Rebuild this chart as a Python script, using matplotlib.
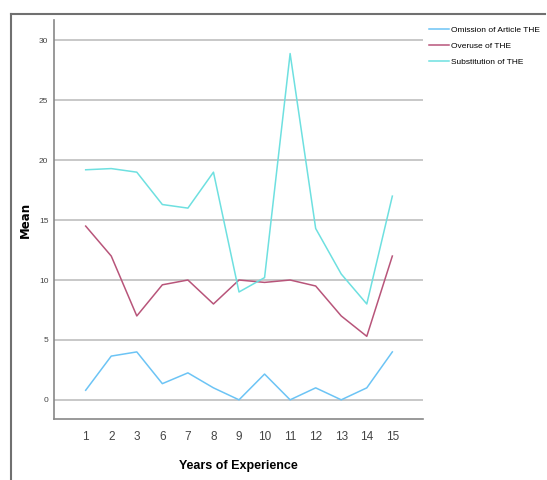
import numpy as np
from matplotlib import pyplot as plt
from matplotlib.lines import Line2D

years = ["1", "2", "3", "6", "7", "8", "9", "10", "11", "12", "13", "14", "15"]
omission = [0.8, 3.65, 4.0, 1.35, 2.25, 1.0, 0.0, 2.15, 0.0, 1.0, 0.0, 1.0, 4.0]
overuse = [14.5, 12.0, 7.0, 9.6, 10.0, 8.0, 10.0, 9.8, 10.0, 9.5, 7.0, 5.3, 12.0]
substitution = [19.2, 19.3, 19.0, 16.3, 16.0, 19.0, 9.0, 10.2, 28.9, 14.3, 10.5, 8.0, 17.0]

FONT = ["Liberation Sans", "DejaVu Sans"]

fig = plt.figure(figsize=(5.47, 4.80), dpi=100)
ax = fig.add_axes([54 / 547, 1 - 419 / 480, 369 / 547, 399 / 480])

x = np.arange(len(years))
ax.plot(x, omission, color="#6cc4f5", lw=1.1, label="Omission of Article THE")
ax.plot(x, overuse, color="#b8557a", lw=1.1, label="Overuse of THE")
ax.plot(x, substitution, color="#6ee0e0", lw=1.1, label="Substitution of THE")

ax.set_xlim(-1.24, 13.2)
ax.set_ylim(-1.6, 31.7)
ax.set_xticks(x)
ax.set_xticklabels(years, fontsize=8.5, family=FONT, color="#444444")
ax.set_yticks([0, 5, 10, 15, 20, 25, 30])
ax.set_yticklabels(["0", "5", "10", "15", "20", "25", "30"], fontsize=6,
                   family=FONT, color="#444444")
ax.tick_params(axis="y", length=0, pad=4)
ax.tick_params(axis="x", length=0, pad=9)
ax.grid(axis="y", color="#c8c8c8", lw=1.4)
ax.set_axisbelow(True)
for s in ["top", "right"]:
    ax.spines[s].set_visible(False)
for s in ["left", "bottom"]:
    ax.spines[s].set_color("#888888")
    ax.spines[s].set_linewidth(1.2)

ax.set_xlabel("Years of Experience", fontsize=9, fontweight="bold",
              family=FONT, labelpad=12)
ax.set_ylabel("Mean", fontsize=8.5, fontweight="bold", family="DejaVu Sans")
ax.yaxis.set_label_coords(-0.06, 0.5)

ax.legend(loc="upper left", bbox_to_anchor=(1.0, 1.0), frameon=False,
          prop={"family": FONT, "size": 6}, handlelength=2.4,
          handletextpad=0.2, labelspacing=1.0, borderaxespad=0.35)

# outer frame
fig.add_artist(Line2D([11 / 547, 11 / 547], [0, 1 - 14 / 480], color="#707070", lw=1.5))
fig.add_artist(Line2D([11 / 547, 545 / 547], [1 - 14 / 480, 1 - 14 / 480], color="#707070", lw=1.5))

fig.savefig("out.png", dpi=100)
